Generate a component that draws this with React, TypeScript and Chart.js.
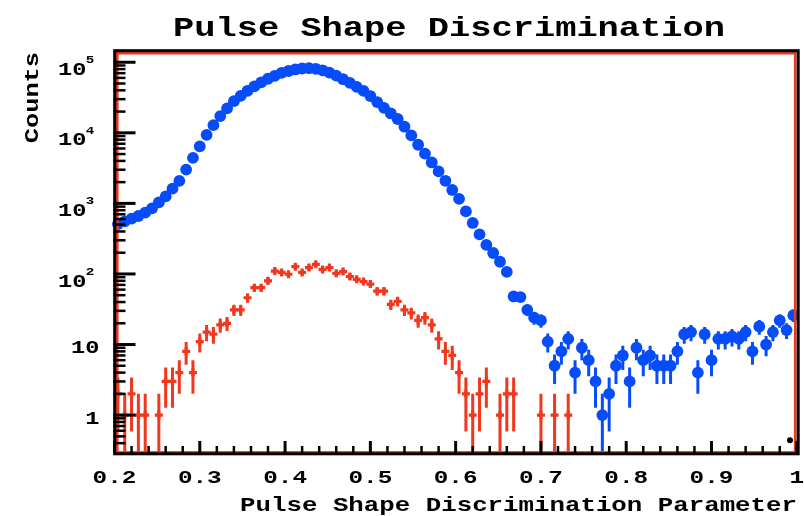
import React, { useEffect, useRef } from "react";
import { Chart, registerables } from "chart.js";
Chart.register(...registerables);

// ---------- data ----------
const binCenters = [
  0.204, 0.212, 0.22, 0.228, 0.236, 0.244, 0.252, 0.26, 0.268, 0.276,
  0.284, 0.292, 0.3, 0.308, 0.316, 0.324, 0.332, 0.34, 0.348, 0.356,
  0.364, 0.372, 0.38, 0.388, 0.396, 0.404, 0.412, 0.42, 0.428, 0.436,
  0.444, 0.452, 0.46, 0.468, 0.476, 0.484, 0.492, 0.5, 0.508, 0.516,
  0.524, 0.532, 0.54, 0.548, 0.556, 0.564, 0.572, 0.58, 0.588, 0.596,
  0.604, 0.612, 0.62, 0.628, 0.636, 0.644, 0.652, 0.66, 0.668, 0.676,
  0.684, 0.692, 0.7, 0.708, 0.716, 0.724, 0.732, 0.74, 0.748, 0.756,
  0.764, 0.772, 0.78, 0.788, 0.796, 0.804, 0.812, 0.82, 0.828, 0.836,
  0.844, 0.852, 0.86, 0.868, 0.876, 0.884, 0.892, 0.9, 0.908, 0.916,
  0.924, 0.932, 0.94, 0.948, 0.956, 0.964, 0.972, 0.98, 0.988, 0.996,
];

const blueCounts = [
  509, 556, 609, 663, 738, 851, 1033, 1255, 1616, 2080,
  3013, 4415, 6430, 9370, 12830, 17250, 22200, 28100, 33300, 39400,
  45500, 51800, 58400, 64300, 70900, 75200, 79000, 81600, 82300, 80800,
  76900, 71400, 64500, 57500, 51100, 44700, 39300, 33200, 27300, 22600,
  18800, 15700, 12200, 9190, 6780, 5060, 3800, 2840, 2090, 1550,
  1160, 769, 528, 364, 258, 198, 149, 107, 48, 47,
  31, 24, 22, 11, 5, 8, 12, 4, 9, 6,
  3, 1, 2, 5, 7, 3, 9, 6, 7, 5,
  5, 5, 8, 14, 15, 4, 14, 6, 12, 12,
  13, 12, 15, 8, 18, 10, 15, 22, 16, 26,
];

const redCounts: (number | null)[] = [
  2, 1, 2, 1, 1, null, 1, 3, 3, 4,
  8, 4, 11, 15, 14, 19, 20, 31, 31, 46,
  64, 64, 80, 110, 105, 99, 127, 105, 123, 137,
  116, 123, 102, 108, 92, 84, 78, 72, 57, 57,
  37, 41, 31, 28, 22, 24, 19, 12, 8, 7,
  4, 2, 1, 2, 3, null, 1, 2, 2, null,
  null, null, 1, null, 1, null, 1, null, null, null,
  null, null, null, null, null, null, null, null, null, null,
  null, null, null, null, null, null, null, null, null, null,
  null, null, null, null, null, null, null, null, null, null,
];

const blackX = [0.992];
const blackY = [0.44];

const xTickValues = [0.2, 0.3, 0.4, 0.5, 0.6, 0.7, 0.8, 0.9, 1.0];
const xTickLabels = ["0.2", "0.3", "0.4", "0.5", "0.6", "0.7", "0.8", "0.9", "1"];
const yTickValues = [1, 10, 100, 1000, 10000, 100000];
const yTickBase = ["1", "10", "10", "10", "10", "10"];
const yTickExp = ["", "", "2", "3", "4", "5"];

const titleText = "Pulse Shape Discrimination";
const xTitleText = "Pulse Shape Discrimination Parameter";
const yTitleText = "Counts";

const X_MIN = 0.2;
const X_MAX = 1.0;
const Y_MIN = 0.3268;
const Y_MAX = 139700;

const BLUE = "rgb(6,76,248)";
const RED = "rgb(240,56,30)";
const FONT = '"Liberation Mono", "DejaVu Sans Mono", monospace';

// ---------- helpers ----------
function fitText(
  ctx: CanvasRenderingContext2D,
  text: string,
  x: number,
  y: number,
  size: number,
  advance: number,
  align: CanvasTextAlign
) {
  ctx.save();
  ctx.font = `bold ${size}px ${FONT}`;
  const w = ctx.measureText(text).width;
  const sx = (advance * text.length) / w;
  ctx.translate(x, y);
  ctx.scale(sx, 1);
  ctx.textAlign = align;
  ctx.textBaseline = "alphabetic";
  ctx.fillStyle = "#000";
  ctx.fillText(text, 0, 0);
  ctx.restore();
}

const errColors: Record<string, string> = { blue: BLUE, red: RED };

const rootPlugin = {
  id: "rootStyle",
  beforeDatasetsDraw(chart: any) {
    const ctx: CanvasRenderingContext2D = chart.ctx;
    const { left, right, top, bottom } = chart.chartArea;
    const xs = chart.scales.x;
    const ys = chart.scales.y;
    ctx.save();
    ctx.beginPath();
    ctx.rect(left, top, right - left, bottom - top);
    ctx.clip();
    chart.data.datasets.forEach((ds: any) => {
      const col = errColors[ds.label];
      if (!col) return;
      ctx.strokeStyle = col;
      ctx.lineWidth = 3;
      ctx.lineCap = "butt";
      ds.data.forEach((p: any) => {
        if (p.y == null) return;
        const e = Math.sqrt(p.y);
        const px = xs.getPixelForValue(p.x);
        const yTop = ys.getPixelForValue(p.y + e);
        const lo = p.y - e;
        const yBot = lo > 0 ? ys.getPixelForValue(lo) : bottom + 10;
        ctx.beginPath();
        ctx.moveTo(px, yTop);
        ctx.lineTo(px, yBot);
        ctx.stroke();
      });
    });
    ctx.restore();
  },
  afterDatasetsDraw(chart: any) {
    const ctx: CanvasRenderingContext2D = chart.ctx;
    const { left, right, top, bottom } = chart.chartArea;
    const xs = chart.scales.x;
    const ys = chart.scales.y;
    ctx.save();
    // frame: red inner line, black outer line
    ctx.lineWidth = 2.6;
    ctx.strokeStyle = RED;
    ctx.strokeRect(left + 2.8, top + 1.2, right - left - 4.4, bottom - top - 0.8);
    ctx.lineWidth = 3;
    ctx.strokeStyle = "#000";
    ctx.strokeRect(left + 0.2, top - 1.3, right - left + 1.2, bottom - top + 3.1);

    // x ticks (inward)
    ctx.strokeStyle = "#000";
    for (let k = 0; k <= 40; k++) {
      const v = X_MIN + k * 0.02;
      const px = xs.getPixelForValue(v);
      const major = k % 5 === 0;
      ctx.lineWidth = major ? 3 : 2.5;
      ctx.beginPath();
      ctx.moveTo(px, bottom + 1);
      ctx.lineTo(px, bottom - (major ? 11 : 6));
      ctx.stroke();
    }
    // y ticks (inward)
    for (let n = -1; n <= 5; n++) {
      for (let m = 1; m <= 9; m++) {
        const v = m * Math.pow(10, n);
        if (v < Y_MIN || v > Y_MAX) continue;
        const py = ys.getPixelForValue(v);
        const major = m === 1;
        ctx.lineWidth = major ? 3 : 2.5;
        ctx.beginPath();
        ctx.moveTo(left - 1, py);
        ctx.lineTo(left + (major ? 21 : 11), py);
        ctx.stroke();
      }
    }
    ctx.restore();

    // x tick labels
    xTickValues.forEach((v, i) => {
      const px = xs.getPixelForValue(v);
      fitText(ctx, xTickLabels[i], px, 482.7, 19, 14.6, "center");
    });
    // y tick labels
    yTickValues.forEach((v, i) => {
      const py = ys.getPixelForValue(v);
      if (yTickExp[i]) {
        fitText(ctx, yTickBase[i], 86.5, py + 12.6, 19, 14.2, "right");
        fitText(ctx, yTickExp[i], 85.8, py + 1, 11, 8.5, "left");
      } else {
        fitText(ctx, yTickBase[i], 99.5, py + 8.8, 19, 14.2, "right");
      }
    });
    // titles
    fitText(ctx, titleText, 449, 36, 27, 21.23, "center");
    fitText(ctx, xTitleText, 797, 510.7, 21, 15.47, "right");
    ctx.save();
    ctx.translate(38, 52);
    ctx.rotate(-Math.PI / 2);
    fitText(ctx, yTitleText, 0, 0, 21, 15.2, "right");
    ctx.restore();
  },
};

export default function App() {
  const ref = useRef<HTMLCanvasElement | null>(null);
  useEffect(() => {
    if (!ref.current) return;
    const blueData = binCenters.map((x, i) => ({ x, y: blueCounts[i] }));
    const redData = binCenters.map((x, i) => ({ x, y: redCounts[i] }));
    const blackData = blackX.map((x, i) => ({ x, y: blackY[i] }));
    const chart = new Chart(ref.current, {
      type: "scatter",
      data: {
        datasets: [
          {
            label: "red",
            data: redData,
            pointStyle: "cross",
            pointRadius: 4,
            pointBorderWidth: 3.2,
            pointBorderColor: RED,
            pointBackgroundColor: RED,
            clip: false as any,
          },
          {
            label: "blue",
            data: blueData,
            pointStyle: "circle",
            pointRadius: 5.9,
            pointBorderWidth: 0,
            pointBackgroundColor: BLUE,
            pointBorderColor: BLUE,
            clip: false as any,
          },
          {
            label: "black",
            data: blackData,
            pointStyle: "circle",
            pointRadius: 3,
            pointBorderWidth: 0,
            pointBackgroundColor: "#000",
            clip: false as any,
          },
        ],
      },
      options: {
        responsive: false,
        animation: false,
        devicePixelRatio: 1,
        layout: { padding: { left: 114.5, right: 5.2, top: 52, bottom: 64 } },
        scales: {
          x: { type: "linear", min: X_MIN, max: X_MAX, display: false },
          y: { type: "logarithmic", min: Y_MIN, max: Y_MAX, display: false },
        },
        plugins: {
          legend: { display: false },
          tooltip: { enabled: false },
          title: { display: false },
        },
        events: [],
      },
      plugins: [rootPlugin],
    });
    return () => chart.destroy();
  }, []);
  return (
    <div style={{ position: "absolute", left: 0, top: 0, width: 804, height: 516, background: "#fff" }}>
      <canvas ref={ref} width={804} height={516} style={{ display: "block" }} />
    </div>
  );
}
